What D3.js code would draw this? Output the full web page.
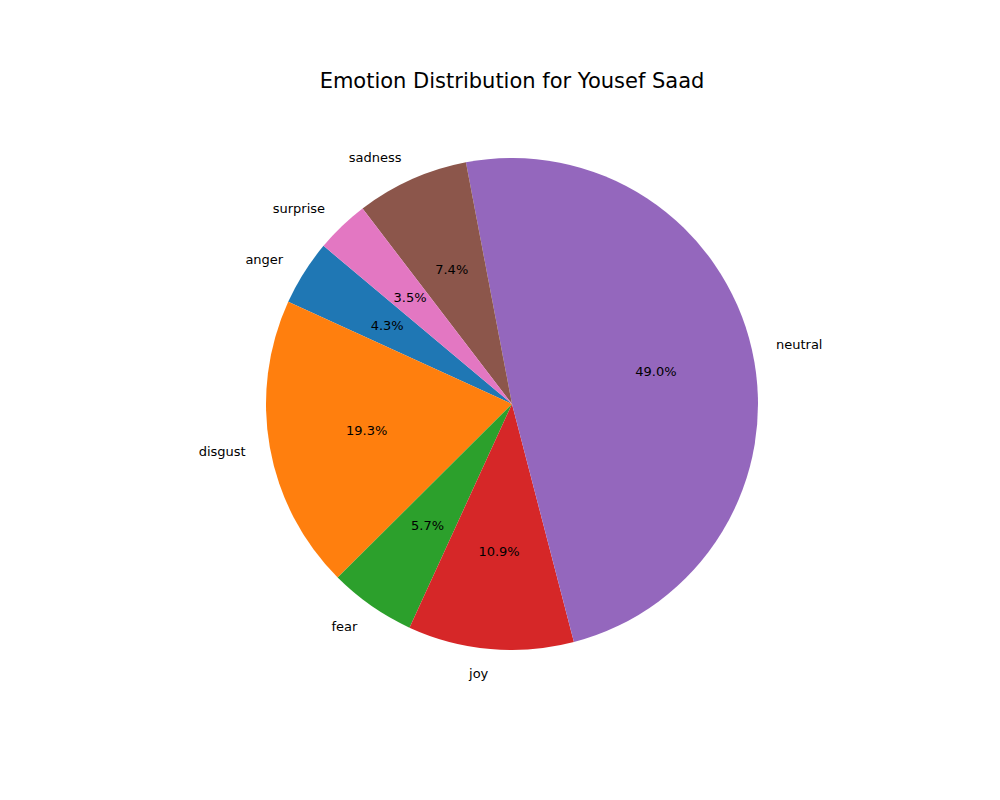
<!DOCTYPE html>
<html>
<head>
<style>
  body { margin: 0; background: #fff; font-family: "DejaVu Sans", sans-serif; }
</style>
<script src="https://d3js.org/d3.v7.min.js"></script>
</head>
<body>
<svg id="chart"></svg>
<script>
let labels = ["anger", "disgust", "fear", "joy", "neutral", "sadness", "surprise"]
let values = [4.3, 19.3, 5.7, 10.9, 49.0, 7.4, 3.5]
let colors = ["#1f77b4", "#ff7f0e", "#2ca02c", "#d62728", "#9467bd", "#8c564b", "#e377c2"]

let width = 1000, height = 800
let cx = 512, cy = 404, r = 246
let svg = d3.select("#chart").attr("width", width).attr("height", height)

svg.append("text")
  .attr("x", 512).attr("y", 88)
  .attr("text-anchor", "middle")
  .style("font-size", "21px")
  .text("Emotion Distribution for Yousef Saad")

// matplotlib startangle=140, counter-clockwise
let start = (90 - 140) * Math.PI / 180
let pie = d3.pie().sort(null).value(d => d)
  .startAngle(start).endAngle(start - 2 * Math.PI)
let arcs = pie(values)
let arc = d3.arc().innerRadius(0).outerRadius(r)

let g = svg.append("g").attr("transform", `translate(${cx},${cy})`)

g.selectAll("path").data(arcs).enter().append("path")
  .attr("d", arc)
  .attr("fill", (d, i) => colors[i])

arcs.forEach((d, i) => {
  let a = (d.startAngle + d.endAngle) / 2
  let lx = Math.sin(a) * r * 1.1, ly = -Math.cos(a) * r * 1.1
  g.append("text")
    .attr("x", lx).attr("y", ly)
    .attr("dy", "0.35em")
    .attr("text-anchor", lx > 0 ? "start" : "end")
    .style("font-size", "13px")
    .text(labels[i])
  g.append("text")
    .attr("x", Math.sin(a) * r * 0.6).attr("y", -Math.cos(a) * r * 0.6)
    .attr("dy", "0.35em")
    .attr("text-anchor", "middle")
    .style("font-size", "13px")
    .text(values[i].toFixed(1) + "%")
})
</script>
</body>
</html>
